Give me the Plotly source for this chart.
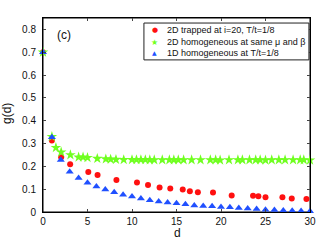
import plotly.graph_objects as go

# 2D trapped at i=20, T/t=1/8
trap_d = [0, 1.0, 2.04, 3.05, 5.09, 6.13, 8.25, 10.56, 11.8, 13.1, 14.3, 15.7, 16.5, 17.4,
          19.1, 21.2, 23.6, 24.2, 25.0, 26.9, 27.95, 29.6]
trap_g = [0.70, 0.313, 0.240, 0.209, 0.175, 0.162, 0.140, 0.129, 0.118, 0.107, 0.103, 0.099,
          0.091, 0.087, 0.085, 0.072, 0.071, 0.069, 0.065, 0.065, 0.059, 0.057]

# 2D homogeneous at same mu and beta
homo2_d = [0, 1.0, 1.45, 2.04, 3.08, 4.0, 4.5, 5.0, 6.1, 7.06, 7.6, 8.2, 9.07, 10.0, 10.5,
           11.0, 11.5, 12.0, 12.5, 13.4, 14.2, 14.7, 15.2, 15.8, 16.7, 17.7, 18.8, 19.4,
           19.9, 20.9, 21.9, 22.4, 23.2, 23.9, 24.4, 25.0, 25.7, 26.5, 27.2, 28.1, 28.9,
           29.3, 30.0]
homo2_g = [0.70, 0.330, 0.282, 0.262, 0.250, 0.240, 0.240, 0.238, 0.234, 0.232, 0.231,
           0.230, 0.229, 0.229, 0.229, 0.229, 0.229, 0.228, 0.228, 0.228, 0.228, 0.228,
           0.228, 0.228, 0.228, 0.228, 0.228, 0.228, 0.227, 0.228, 0.228, 0.228, 0.228,
           0.228, 0.228, 0.227, 0.228, 0.228, 0.228, 0.228, 0.228, 0.228, 0.227]

# 1D homogeneous at T/t=1/8
homo1_d = list(range(0, 31))
homo1_g = [0.70, 0.328, 0.228, 0.176, 0.149, 0.128, 0.112, 0.099, 0.086, 0.076, 0.068,
           0.059, 0.052, 0.046, 0.042, 0.038, 0.034, 0.029, 0.026, 0.025, 0.022, 0.021,
           0.018, 0.015, 0.013, 0.010, 0.009, 0.007, 0.006, 0.004, 0.003]

names = ["2D trapped at i=20, T/t=1/8",
         "2D homogeneous at same \u03bc and \u03b2",
         "1D homogeneous at T/t=1/8"]

x_ticks = [0, 5, 10, 15, 20, 25, 30]
y_ticks = [0, 0.1, 0.2, 0.3, 0.4, 0.5, 0.6, 0.7, 0.8]
y_tick_labels = ["0", "0.1", "0.2", "0.3", "0.4", "0.5", "0.6", "0.7", "0.8"]

FONT = "Liberation Sans, Arial, sans-serif"
colors = ["#ff1010", "#70ff20", "#2050ff"]
symbols = ["circle", "star", "triangle-up"]
sizes = [6, 8, 7]
legend_glyphs = ["\u25cf", "\u2605", "\u25b2"]
legend_glyph_sizes = [7, 8, 6]

fig = go.Figure()
for xs, ys, sym, sz, col, nm in zip([trap_d, homo2_d, homo1_d], [trap_g, homo2_g, homo1_g],
                                    symbols, sizes, colors, names):
    fig.add_trace(go.Scatter(x=xs, y=ys, mode="markers", name=nm, showlegend=False,
                             cliponaxis=False,
                             marker=dict(symbol=sym, size=sz, color=col, line=dict(width=0))))

axis_common = dict(showgrid=False, zeroline=False, showline=True, linecolor="#000000",
                   linewidth=1, mirror="ticks", ticks="inside", ticklen=3, tickcolor="#444",
                   tickfont=dict(family=FONT, size=10, color="#111"))

fig.update_xaxes(range=[0, 30], tickvals=x_ticks, ticktext=[str(v) for v in x_ticks],
                 **axis_common)
fig.update_yaxes(range=[0, 0.85], tickvals=y_ticks, ticktext=y_tick_labels,
                 ticklabelstandoff=4, **axis_common)

# plot frame
fig.add_shape(type="rect", xref="paper", yref="paper", x0=0, y0=0, x1=1, y1=1,
              line=dict(color="#000000", width=1), layer="below")

fig.add_annotation(text="(c)", xref="paper", yref="paper", x=0.045, y=0.91,
                   showarrow=False, font=dict(family=FONT, size=12, color="#111"),
                   xanchor="left", yanchor="middle")
fig.add_annotation(text="d", xref="paper", yref="paper", x=0.502, y=-0.108,
                   showarrow=False, font=dict(family=FONT, size=12, color="#111"),
                   xanchor="center", yanchor="middle")
fig.add_annotation(text="g(d)", xref="paper", yref="paper", x=-0.135, y=0.51,
                   textangle=-90, showarrow=False,
                   font=dict(family=FONT, size=12, color="#111"),
                   xanchor="center", yanchor="middle")

# legend (compact, drawn as box + text)
fig.add_shape(type="rect", xref="paper", yref="paper", x0=0.378, y0=0.784, x1=0.996, y1=0.974,
              line=dict(color="#222", width=1), fillcolor="white", layer="above")
row_y = [0.938, 0.876, 0.820]
for yv, gl, gs, col, nm in zip(row_y, legend_glyphs, legend_glyph_sizes, colors, names):
    fig.add_annotation(text=gl, xref="paper", yref="paper", x=0.419, y=yv,
                       showarrow=False, font=dict(family="DejaVu Sans", size=gs, color=col),
                       xanchor="center", yanchor="middle")
    fig.add_annotation(text=nm, xref="paper", yref="paper", x=0.457, y=yv,
                       showarrow=False, font=dict(family=FONT, size=9, color="#111"),
                       xanchor="left", yanchor="middle")

fig.update_layout(
    width=332, height=249,
    margin=dict(l=43, r=22, t=18, b=37),
    paper_bgcolor="white", plot_bgcolor="white",
    showlegend=False,
)

fig.write_html("out.html", config={"displayModeBar": False},
               post_script="document.body.style.margin='0px';document.body.style.overflow='hidden';")
